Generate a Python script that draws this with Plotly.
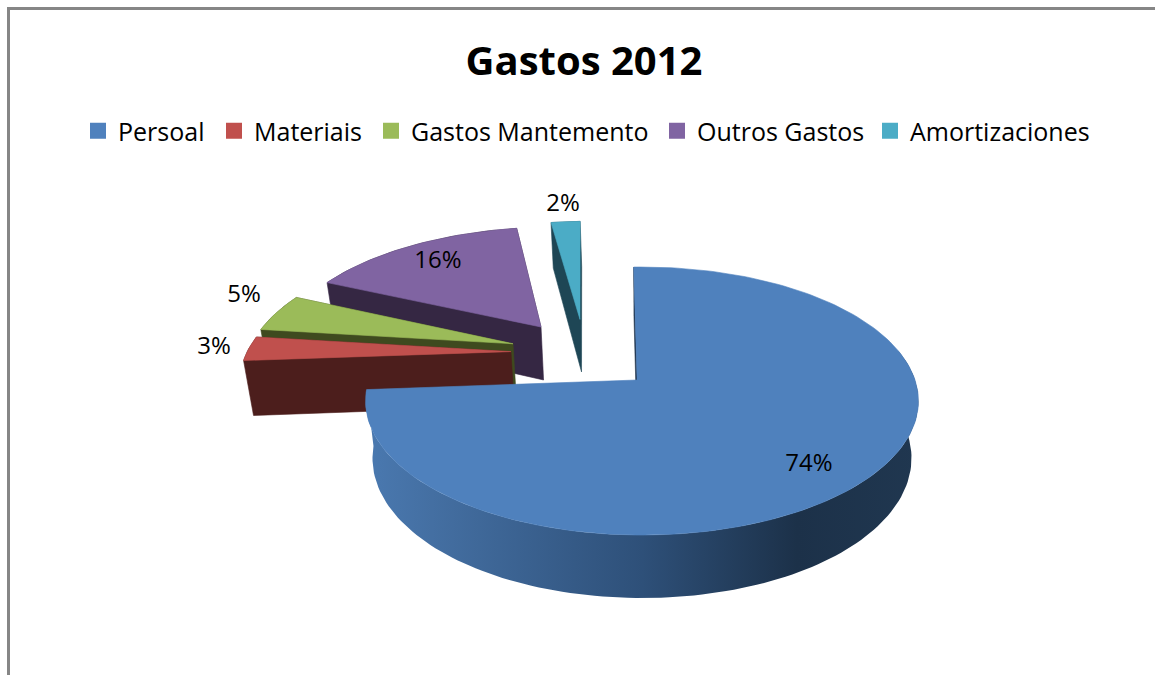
import numpy as np
import plotly.graph_objects as go

# ---- data ----
title_text = "Gastos 2012"
categories = ["Persoal", "Materiais", "Gastos Mantemento", "Outros Gastos", "Amortizaciones"]
percent_values = [74.4, 3.1, 4.8, 15.6, 2.1]

# ---- styles and placement ----
top_colors = ["#4f81bd", "#c0504d", "#9bbb59", "#8064a2", "#4bacc6"]
wall_colors = ["#1c3149", "#4c1e1c", "#3f4a1f", "#352743", "#1e4655"]
slice_shift = [(0.0, 0.0), (-0.497, 0.225), (-0.494, 0.29), (-0.395, 0.433), (-0.245, 0.50)]
apex_nudge = [(-0.018, 0.0), (0, 0), (0, 0), (0, 0), (0, 0)]
label_xy = [(809, 465), (214, 348), (244, 296), (438, 262), (563, 205)]
legend_text_x = [118, 254, 411, 697, 910]
draw_order = [4, 3, 2, 1, 0]
FONT = "Open Sans"
START_DEG = -2.0

CX, CY, F, G, K = 642.0, 380.0, 273.0, 130.7, 0.157


def project(X, Y):
    w = 1 + K * Y
    return CX + F * X / w, CY - G * Y / w


def drop(sx, sy, Y):
    """Project a point to the lower face of the disc."""
    h = 56 - 7 * Y
    return CX + (sx - CX) * 0.975, sy + h


def hull(px, py):
    pts = sorted(set(zip(px.tolist(), py.tolist())))

    def half(seq):
        out = []
        for p in seq:
            while len(out) > 1 and ((out[-1][0] - out[-2][0]) * (p[1] - out[-2][1])
                                    - (out[-1][1] - out[-2][1]) * (p[0] - out[-2][0])) <= 0:
                out.pop()
            out.append(p)
        return out[:-1]

    ring = half(pts) + half(pts[::-1])
    ring.append(ring[0])
    return [p[0] for p in ring], [p[1] for p in ring]


total = sum(percent_values)
fig = go.Figure()
cum = np.cumsum([0] + percent_values) / total * 360 + START_DEG

for i in draw_order:
    a0, a1 = np.radians(cum[i]), np.radians(cum[i + 1])
    n = max(4, int((a1 - a0) / np.radians(1.5)))
    th = np.linspace(a0, a1, n)
    dx, dy = slice_shift[i]
    ax_, ay_ = dx + apex_nudge[i][0], dy + apex_nudge[i][1]
    mX = np.concatenate([[ax_], dx + np.sin(th), [ax_]])
    mY = np.concatenate([[ay_], dy + np.cos(th), [ay_]])
    sx, sy = project(mX, mY)
    bx, by = drop(sx, sy, mY)

    if i == 0:
        # cut face beside the start of the big slice
        qx, qy = hull(np.array([sx[0], sx[1], bx[0], bx[1]]), np.array([sy[0], sy[1], by[0], by[1]]))
        fig.add_trace(go.Scatter(x=qx, y=qy, mode="lines", fill="toself", fillcolor=wall_colors[0],
                                 line=dict(color=wall_colors[0], width=0.6), hoverinfo="skip", showlegend=False))
        # front wall: one outline with a horizontal gradient
        ax, ay = sx[1:-1], sy[1:-1]
        cx_, cy_ = bx[1:-1], by[1:-1]
        keep = mY[1:-1] < 0.25
        fig.add_trace(go.Scatter(
            x=np.concatenate([ax[keep], cx_[keep][::-1], ax[keep][:1]]),
            y=np.concatenate([ay[keep], cy_[keep][::-1], ay[keep][:1]]),
            mode="lines", fill="toself", line=dict(width=0, color="rgba(0,0,0,0)"),
            fillgradient=dict(type="horizontal", colorscale=[[0, "#4a79b0"], [0.12, "#446fa2"],
                                                            [0.5, "#2e5079"], [0.78, "#1c3149"], [1, "#203750"]]),
            hoverinfo="skip", showlegend=False))
    else:
        wx, wy = hull(np.concatenate([sx, bx]), np.concatenate([sy, by]))
        fig.add_trace(go.Scatter(x=wx, y=wy, mode="lines", fill="toself", fillcolor=wall_colors[i],
                                 line=dict(color=wall_colors[i], width=0.6), hoverinfo="skip", showlegend=False))
    fig.add_trace(go.Scatter(x=sx, y=sy, mode="lines", fill="toself", fillcolor=top_colors[i],
                             line=dict(color=top_colors[i], width=0.6), hoverinfo="skip", showlegend=False))

# legend swatches, one native legend per entry so each sits where the reference has it
legend_layout = {}
for k, (name, col, tx) in enumerate(zip(categories, top_colors, legend_text_x)):
    key = "legend" if k == 0 else f"legend{k + 1}"
    fig.add_trace(go.Scatter(x=[None], y=[None], mode="markers", name=name, legend=key, showlegend=True,
                             marker=dict(symbol="square", size=16, color=col)))
    legend_layout[key] = dict(orientation="h", x=(tx - 40) / 1155, xanchor="left", y=1 - 131 / 675, yanchor="middle",
                              font=dict(family=FONT, size=25, color="#000000"), itemwidth=30,
                              bgcolor="rgba(0,0,0,0)")

# percentage labels
fig.add_trace(go.Scatter(x=[p[0] for p in label_xy], y=[p[1] for p in label_xy], mode="text",
                         text=[f"{round(v)}%" for v in percent_values], textposition="middle center",
                         textfont=dict(family=FONT, size=24, color="#000000"),
                         hoverinfo="skip", showlegend=False))

fig.update_layout(
    width=1155, height=675, margin=dict(l=0, r=0, t=0, b=0),
    paper_bgcolor="white", plot_bgcolor="white",
    xaxis=dict(range=[0, 1155], visible=False, fixedrange=True),
    yaxis=dict(range=[675, 0], visible=False, fixedrange=True),
    title=dict(text=f"<b>{title_text}</b>", x=584 / 1155, xanchor="center", y=1 - 61 / 675, yanchor="middle",
               font=dict(family=FONT, size=40, color="#000000")),
    shapes=[
        dict(type="line", x0=8.5, x1=8.5, y0=8, y1=675, line=dict(color="#868686", width=3)),
        dict(type="line", x0=7, x1=1155, y0=8.5, y1=8.5, line=dict(color="#868686", width=3)),
    ],
    **legend_layout,
)
fig.write_html("out.html", config=dict(displayModeBar=False),
               post_script="document.body.style.margin='0';document.body.style.overflow='hidden';")
